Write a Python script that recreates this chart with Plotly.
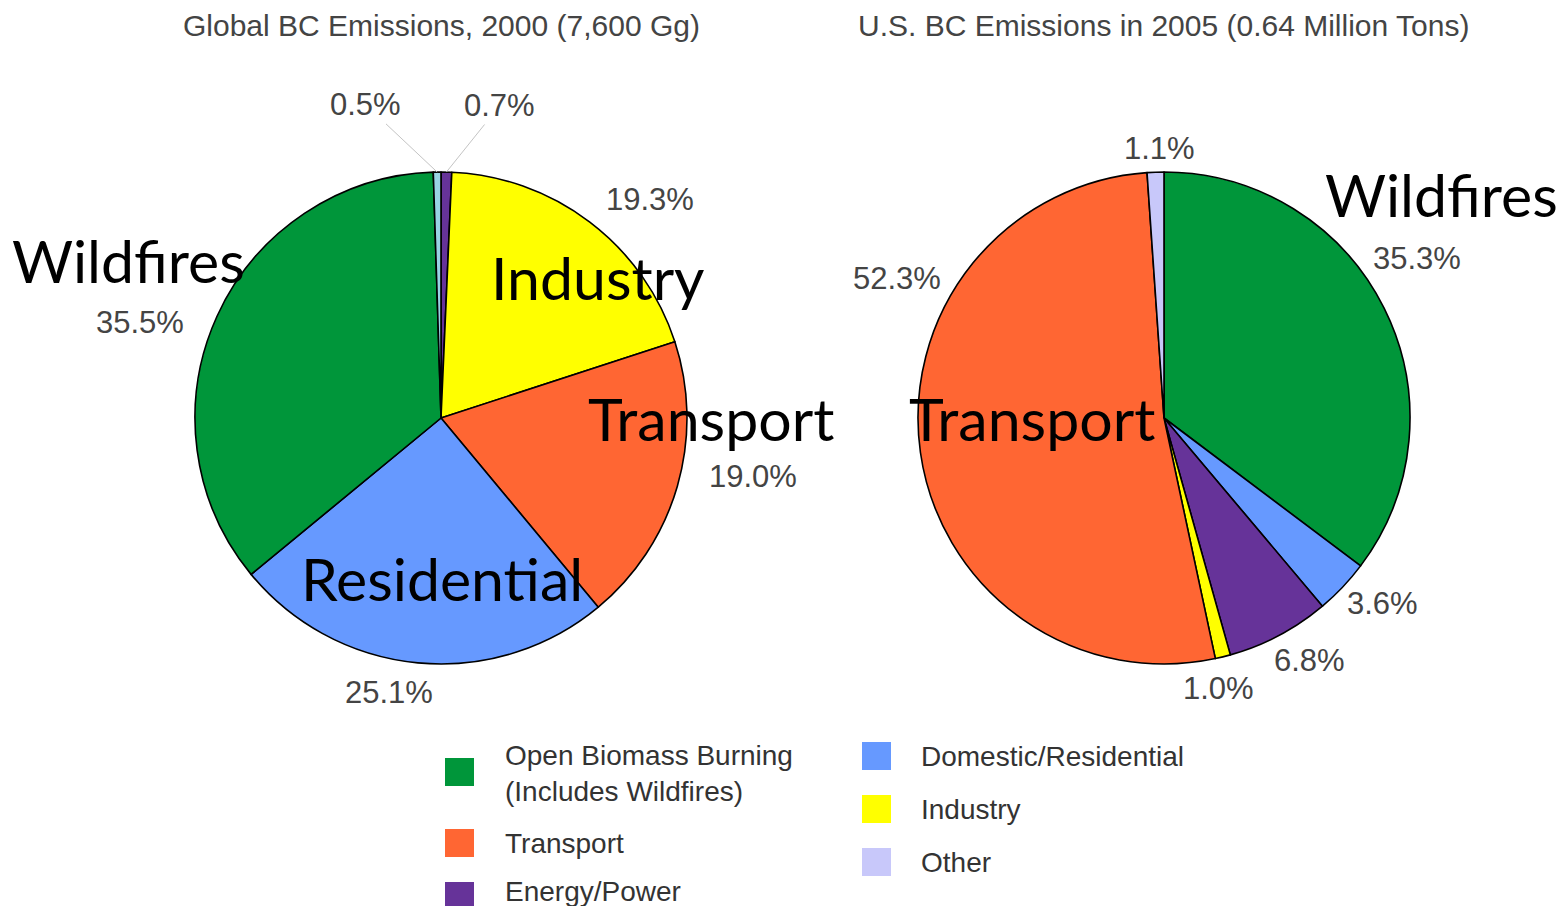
import math
import plotly.graph_objects as go

# page has an 8px body margin; the figure is sized to fit inside the window
PAGE_W, PAGE_H = 1567, 914
OFF = 8
W, H = PAGE_W - 2 * OFF, PAGE_H - 2 * OFF

# ---------------- data ----------------
global_title = "Global BC Emissions, 2000 (7,600 Gg)"
us_title = "U.S. BC Emissions in 2005 (0.64 Million Tons)"

global_categories = ["Energy/Power", "Industry", "Transport", "Domestic/Residential",
                     "Open Biomass Burning", "Other"]
global_values = [0.7, 19.3, 19.0, 25.1, 35.5, 0.5]

us_categories = ["Open Biomass Burning", "Domestic/Residential", "Energy/Power",
                 "Industry", "Transport", "Other"]
us_values = [35.3, 3.6, 6.8, 1.0, 52.3, 1.1]

legend_col1 = ["Open Biomass Burning<br>(Includes Wildfires)", "Transport", "Energy/Power"]
legend_col1_keys = ["Open Biomass Burning", "Transport", "Energy/Power"]
legend_col2 = ["Domestic/Residential", "Industry", "Other"]

big_labels_global = ["Wildfires", "Industry", "Transport", "Residential"]
big_labels_us = ["Transport", "Wildfires"]

# ---------------- styles / layout ----------------
colors = {
    "Open Biomass Burning": "#00963a",
    "Transport": "#ff6633",
    "Energy/Power": "#663399",
    "Domestic/Residential": "#6699ff",
    "Industry": "#ffff00",
    "Other": "#c8c8fa",
}
global_other_color = "#98d4e4"

R = 246
centers = {"global": (441, 418), "us": (1164, 418)}

# label placement tweaks (angle nudge in degrees, distance from centre in px)
global_label_pos = [(9.4, 318), (6.5, 302), (-5.5, 317), (5.3, 279), (-6.7, 316), (-12.6, 322)]
global_leader = [True, False, False, False, False, True]
us_label_pos = [(-5.8, 299), (-3.1, 286), (-3.1, 283), (2.5, 276), (35.7, 301), (1.0, 270)]
us_leader = [False] * 6

big_label_pos = {
    ("global", "Wildfires"): (128, 260), ("global", "Industry"): (598, 277),
    ("global", "Transport"): (711, 418), ("global", "Residential"): (442, 578),
    ("us", "Transport"): (1032, 418), ("us", "Wildfires"): (1441, 195),
}

PCT_FONT = dict(family="Liberation Sans, Arial", size=31, color="#444444")


def px(x):
    return (x - OFF) / W


def py(y):
    return 1 - (y - OFF) / H


fig = go.Figure()


def add_pie(key, cats, vals, other_color=None):
    cx, cy = centers[key]
    cols = [colors[c] for c in cats]
    if other_color:
        cols = [other_color if c == "Other" else col for c, col in zip(cats, cols)]
    fig.add_trace(go.Pie(
        labels=cats, values=vals, sort=False, direction="clockwise", rotation=0,
        marker=dict(colors=cols, line=dict(color="#000000", width=1.6)),
        textinfo="none", hoverinfo="label+value", showlegend=False,
        domain=dict(x=[px(cx - R), px(cx + R)], y=[py(cy + R), py(cy - R)]),
    ))


add_pie("global", global_categories, global_values, global_other_color)
add_pie("us", us_categories, us_values)

annotations = []


def add_pct_labels(key, vals, pos, leader):
    cx, cy = centers[key]
    total = sum(vals)
    cum = 0.0
    for v, (nudge, dist), lead in zip(vals, pos, leader):
        mid = (cum + v / 2) / total * 360
        cum += v
        a = math.radians(mid + nudge)
        tx = cx + dist * math.sin(a)
        ty = cy - dist * math.cos(a)
        txt = f"{v:.1f}%"
        if lead:
            am = math.radians(mid)
            ex = cx + R * math.sin(am)
            ey = cy - R * math.cos(am)
            annotations.append(dict(
                x=px(ex), y=py(ey), xref="paper", yref="paper",
                ax=tx - ex, ay=ty - ey, text=txt, showarrow=True,
                arrowhead=0, arrowwidth=1, arrowcolor="#c4c4c4", standoff=0,
                font=PCT_FONT,
            ))
        else:
            annotations.append(dict(
                x=px(tx), y=py(ty), xref="paper", yref="paper", text=txt,
                showarrow=False, xanchor="center", yanchor="middle",
                font=PCT_FONT,
            ))


add_pct_labels("global", global_values, global_label_pos, global_leader)
add_pct_labels("us", us_values, us_label_pos, us_leader)

# titles
TITLE_FONT = dict(family="Liberation Sans, Arial", size=30, color="#444444")
annotations.append(dict(x=px(441), y=1, xref="paper", yref="paper", text=global_title,
                        showarrow=False, xanchor="center", yanchor="top", borderpad=0,
                        font=TITLE_FONT))
annotations.append(dict(x=px(1163), y=1, xref="paper", yref="paper", text=us_title,
                        showarrow=False, xanchor="center", yanchor="top", borderpad=0,
                        font=TITLE_FONT))

# big overlay labels
for key, lst in (("global", big_labels_global), ("us", big_labels_us)):
    for text in lst:
        x, y = big_label_pos[(key, text)]
        annotations.append(dict(x=px(x), y=py(y), xref="paper", yref="paper", text=text,
                                showarrow=False, xanchor="center", yanchor="middle",
                                font=dict(family="Lato", size=59, color="#000000")))

# legend
shapes = []
leg_font = dict(family="Liberation Sans, Arial", size=28, color="#333333")
col1_sq = [772, 843, 896]
col1_txt = [773, 843, 891]
for text, key, sy, ty in zip(legend_col1, legend_col1_keys, col1_sq, col1_txt):
    shapes.append(dict(type="rect", xref="paper", yref="paper",
                       x0=px(445), x1=px(474), y0=py(sy - 14), y1=py(sy + 14),
                       fillcolor=colors[key], line=dict(width=0)))
    annotations.append(dict(x=px(503), y=py(ty), xref="paper", yref="paper", text=text,
                            showarrow=False, xanchor="left", yanchor="middle", align="left",
                            font=leg_font))
col2_y = [756, 809, 862]
for text, sy in zip(legend_col2, col2_y):
    shapes.append(dict(type="rect", xref="paper", yref="paper",
                       x0=px(862), x1=px(891), y0=py(sy - 14), y1=py(sy + 14),
                       fillcolor=colors[text], line=dict(width=0)))
    annotations.append(dict(x=px(919), y=py(sy), xref="paper", yref="paper", text=text,
                            showarrow=False, xanchor="left", yanchor="middle",
                            font=leg_font))

fig.update_layout(
    width=W, height=H, margin=dict(l=0, r=0, t=0, b=0),
    paper_bgcolor="white", plot_bgcolor="white",
    annotations=annotations, shapes=shapes, showlegend=False,
)

fig.write_html("out.html")
